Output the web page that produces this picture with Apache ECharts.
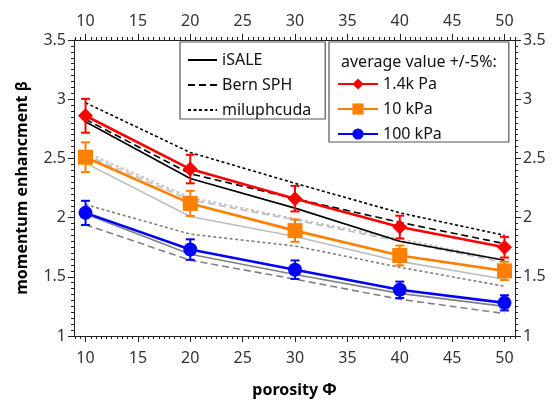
<!DOCTYPE html>
<html><head><meta charset="utf-8">
<script src="https://cdn.jsdelivr.net/npm/echarts@6/dist/echarts.min.js"></script>
<style>html,body{margin:0;padding:0;background:#fff}#c{width:555px;height:408px}</style>
</head><body><div id="c"></div>
<script>
// ---- data ----
const porosity = [10, 20, 30, 40, 50];
// measured average values (error bars +/-5%)
const avg14  = [2.86, 2.41, 2.16, 1.92, 1.75];
const avg10  = [2.51, 2.12, 1.89, 1.68, 1.55];
const avg100 = [2.04, 1.73, 1.56, 1.39, 1.28];
// simulations, 1.4 kPa (black)
const isale14 = [2.81, 2.33, 2.08, 1.80, 1.64];
const bern14  = [2.83, 2.37, 2.16, 1.96, 1.78];
const milu14  = [2.97, 2.55, 2.29, 2.04, 1.85];
// simulations, 10 kPa (light gray)
const isale10 = [2.46, 2.01, 1.84, 1.63, 1.48];
const bern10  = [2.53, 2.15, 1.98, 1.80, 1.62];
const milu10  = [2.55, 2.17, 1.99, 1.82, 1.64];
// simulations, 100 kPa (gray)
const isale100 = [2.03, 1.69, 1.52, 1.36, 1.25];
const bern100  = [1.94, 1.64, 1.48, 1.31, 1.19];
const milu100  = [2.11, 1.86, 1.76, 1.58, 1.42];
// axes
const xTicks = [10, 15, 20, 25, 30, 35, 40, 45, 50];
const yTicks = [1, 1.5, 2, 2.5, 3, 3.5];
const errFrac = 0.05;

// ---- build ----
const FONT = 'Noto Sans';
const xMin = 8.9, xMax = 51;
const xMinor = [];
for (let k = 18; k <= 102; k++) { const v = k / 2; if (v >= xMin && v <= xMax && v % 5 !== 0) xMinor.push(v); }

const pairs = arr => porosity.map((x, i) => [x, arr[i]]);

function simLine(name, arr, color, type) {
  return {
    name, type: 'line', data: pairs(arr), symbol: 'none', z: 2,
    lineStyle: { color, width: 1.6, type },
    itemStyle: { color }, emphasis: { disabled: true }
  };
}
function avgLine(name, arr, color, symbol, size) {
  return {
    name, type: 'line', data: pairs(arr), symbol, symbolSize: size, z: 5,
    lineStyle: { color, width: 2.6 }, itemStyle: { color }, emphasis: { disabled: true }
  };
}
function errBars(arr, color) {
  return {
    type: 'custom', z: 4, data: pairs(arr), encode: { x: 0, y: 1 },
    renderItem: (params, api) => {
      const x = api.value(0), y = api.value(1);
      const lo = api.coord([x, y * (1 - errFrac)]);
      const hi = api.coord([x, y * (1 + errFrac)]);
      const w = 4.5, st = { stroke: color, lineWidth: 2 };
      return { type: 'group', children: [
        { type: 'line', shape: { x1: lo[0], y1: lo[1], x2: hi[0], y2: hi[1] }, style: st },
        { type: 'line', shape: { x1: lo[0] - w, y1: lo[1], x2: lo[0] + w, y2: lo[1] }, style: st },
        { type: 'line', shape: { x1: hi[0] - w, y1: hi[1], x2: hi[0] + w, y2: hi[1] }, style: st }
      ]};
    }
  };
}

const BLACK = '#000', LGRAY = '#bdbdbd', MGRAY = '#808080';
const RED = '#ff0000', ORANGE = '#ff8000', BLUE = '#0000ff';
const DASH = [7, 4], DOT = [3, 2.5];
const labelStyle = { color: '#333', fontSize: 16, fontFamily: FONT };
const axisLine = { show: true, lineStyle: { color: '#222', width: 1 } };

function xAx(pos, major) {
  return {
    type: 'value', position: pos, min: xMin, max: xMax, gridIndex: 0,
    axisLine: major ? axisLine : { show: false },
    axisTick: { show: true, customValues: major ? xTicks : xMinor, length: major ? 6 : 3, lineStyle: { color: '#222' } },
    axisLabel: major ? Object.assign({ show: true, customValues: xTicks, margin: pos === 'top' ? 11 : 14 }, labelStyle) : { show: false },
    splitLine: { show: false },
    name: (major && pos === 'bottom') ? 'porosity Φ' : '',
    nameLocation: 'middle', nameGap: 46,
    nameTextStyle: { fontSize: 16, fontWeight: 'bold', color: '#000', fontFamily: FONT }
  };
}
function yAx(pos) {
  return {
    type: 'value', position: pos, min: 1, max: 3.5, interval: 0.5,
    axisLine, axisTick: { show: true, length: 6, lineStyle: { color: '#222' } },
    minorTick: { show: true, splitNumber: 10, length: 3, lineStyle: { color: '#222' } },
    axisLabel: Object.assign({ margin: 8, formatter: v => yTicks.includes(v) ? String(v) : '' }, labelStyle),
    splitLine: { show: false },
    name: pos === 'left' ? 'momentum enhancment β' : '',
    nameLocation: 'middle', nameGap: 44,
    nameTextStyle: { fontSize: 16, fontWeight: 'bold', color: '#000', fontFamily: FONT }
  };
}

const option = {
  animation: false,
  backgroundColor: '#fff',
  textStyle: { fontFamily: FONT },
  grid: { left: 74, right: 40, top: 40, bottom: 72, containLabel: false },
  xAxis: [xAx('bottom', true), xAx('bottom', false), xAx('top', true), xAx('top', false)],
  yAxis: [yAx('left'), yAx('right')],
  title: {
    text: 'average value +/-5%:', left: 336, top: 49,
    textStyle: { fontSize: 16, fontWeight: 'normal', color: '#111', fontFamily: FONT }
  },
  legend: [
    {
      data: ['iSALE', 'Bern SPH', 'miluphcuda'], orient: 'vertical', left: 180, top: 42,
      padding: [10, 14, 1, 7], itemGap: 9, itemWidth: 29, itemHeight: 14,
      itemStyle: { opacity: 0 },
      borderColor: '#555', borderWidth: 1.2, selectedMode: false,
      textStyle: { fontSize: 16, color: '#111', fontFamily: FONT }
    },
    {
      data: ['1.4k Pa', '10 kPa', '100 kPa'], orient: 'vertical', left: 329, top: 42,
      padding: [34, 67, 0, 8], itemGap: 9, itemWidth: 40, itemHeight: 14,
      borderColor: '#555', borderWidth: 1.2, selectedMode: false,
      textStyle: { fontSize: 16, color: '#111', fontFamily: FONT }
    }
  ],
  series: [
    simLine('iSALE 10', isale10, LGRAY, 'solid'),
    simLine('Bern 10', bern10, LGRAY, DASH),
    simLine('milu 10', milu10, LGRAY, DOT),
    simLine('iSALE 100', isale100, MGRAY, 'solid'),
    simLine('Bern 100', bern100, MGRAY, DASH),
    simLine('milu 100', milu100, MGRAY, DOT),
    simLine('iSALE', isale14, BLACK, 'solid'),
    simLine('Bern SPH', bern14, BLACK, DASH),
    simLine('miluphcuda', milu14, BLACK, DOT),
    errBars(avg14, RED), errBars(avg10, ORANGE), errBars(avg100, BLUE),
    avgLine('1.4k Pa', avg14, RED, 'diamond', 15),
    avgLine('10 kPa', avg10, ORANGE, 'rect', 15),
    avgLine('100 kPa', avg100, BLUE, 'circle', 14)
  ]
};
echarts.init(document.getElementById('c'), null, { renderer: 'canvas' }).setOption(option);
</script></body></html>
